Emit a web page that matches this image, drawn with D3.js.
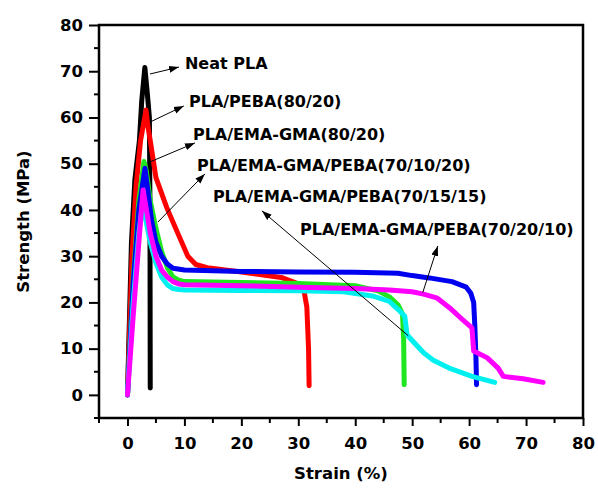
<!DOCTYPE html>
<html>
<head>
<meta charset="utf-8">
<script src="https://cdn.jsdelivr.net/npm/d3@7"></script>
<style>
    body { margin: 0; background: #fff; }
    text { font-family: "DejaVu Sans", sans-serif; font-weight: bold; }
</style>
</head>
<body>
<div id="chart"></div>
<script>
// strain (%), strength (MPa)
var neatPla = [[0,0],[0.7,33],[1.3,46.5],[2.1,55],[2.5,63.5],[3.05,70.8],[3.5,65],[3.85,60],[3.95,40],[4.0,1.5]];
var plaPeba = [[0,0],[0.8,30],[1.5,45],[2.3,55],[3.25,61.6],[3.6,58],[4.0,55],[5.0,47],[6.9,40.5],[9,34.5],[10.6,30],[12,28.2],[14,27.5],[20,26.6],[27,25.4],[30,24],[31,22.5],[31.5,19],[31.8,10],[31.9,2]];
var plaEmaGma = [[0,0],[1,25],[2,42],[2.9,50.5],[3.3,48.5],[4,42],[5,36],[6,31],[7,27.5],[8,25.5],[9,24.8],[10,24.5],[20,24.3],[30,24.1],[40,23.6],[44,22.5],[46,21.2],[47.5,19.5],[48.3,17.5],[48.5,12],[48.6,2.2]];
var blend701020 = [[0,0],[1,24],[2,40],[3.07,49],[3.5,45],[4.2,38],[5,33],[6,30],[7,28.3],[8,27.4],[10,27],[20,26.7],[30,26.6],[40,26.5],[47.5,26.3],[50,25.8],[53,25.3],[57,24.5],[59.5,23.3],[60.3,22],[60.8,20],[61,15],[61.2,8],[61.3,2.2]];
var blend701515 = [[0,0],[1,20],[2,35],[2.6,41],[3.2,38],[4,33],[5,28.5],[6,25.5],[7,23.8],[8,23],[9,22.8],[10,22.7],[20,22.6],[30,22.5],[38,22.3],[43,21.4],[46,20.2],[47.5,18.5],[48.7,17],[49.1,13],[50.2,11.5],[52,9.1],[53.7,7.5],[56.5,5.8],[60.5,4],[64.5,2.7]];
var blend702010 = [[0,0],[1,17],[2,33],[2.74,44.3],[3.2,41],[4,35],[5,30],[6,27],[7,25.5],[8,24.5],[9,24],[10,23.8],[20,23.6],[30,23.3],[40,23],[46,22.7],[50,22.3],[52,21.8],[54.3,21],[56.6,18.8],[58.9,16.2],[60.5,14.5],[60.8,9.5],[63.2,8],[65.1,5.8],[66,4],[69.5,3.5],[73,2.7]];

var seriesNames = ["Neat PLA", "PLA/PEBA(80/20)", "PLA/EMA-GMA(80/20)", "PLA/EMA-GMA/PEBA(70/10/20)", "PLA/EMA-GMA/PEBA(70/15/15)", "PLA/EMA-GMA/PEBA(70/20/10)"];
var seriesValues = [neatPla, plaPeba, plaEmaGma, blend701020, blend701515, blend702010];
var seriesColors = ["#000000", "#ff0000", "#1fe61f", "#0000f0", "#00f0f0", "#ff00ff"];

var xMajorTicks = [0, 10, 20, 30, 40, 50, 60, 70, 80];
var yMajorTicks = [0, 10, 20, 30, 40, 50, 60, 70, 80];
var minorTicks = [-5, 5, 15, 25, 35, 45, 55, 65, 75];

// label anchor and arrow (from -> to), in data units
var labelPos = [[10.1,70.4],[10.8,62.3],[11.5,55.1],[12.2,48.4],[15.0,41.7],[30.3,34.6]];
var arrowFrom = [[3.95,69.4],[3.95,59.0],[3.6,50.2],[5.36,37.4],[49.3,12.8],[51.85,22.1]];
var arrowTo = [[9.05,70.9],[9.9,62.5],[11.85,54.5],[13.6,47.8],[23.6,39.8],[54.5,32.2]];

var attrs = {
    width: 598,
    height: 492,
    left: 99,
    right: 583,
    top: 25,
    bottom: 418,
    lineWidth: 5
};

var x = d3.scaleLinear().domain([-5, 80]).range([attrs.left, attrs.right]);
var y = d3.scaleLinear().domain([-5, 80]).range([attrs.bottom, attrs.top]);

var svg = d3.select("#chart").append("svg")
    .attr("width", attrs.width)
    .attr("height", attrs.height);

svg.append("defs").append("marker")
    .attr("id", "arrow")
    .attr("viewBox", "0 0 10 10")
    .attr("refX", 10)
    .attr("refY", 5)
    .attr("markerWidth", 10)
    .attr("markerHeight", 10)
    .attr("markerUnits", "userSpaceOnUse")
    .attr("orient", "auto")
    .append("path")
    .attr("d", "M0,1.5 L10,5 L0,8.5 Z")
    .attr("fill", "#000");

var line = d3.line()
    .x(function(d){ return x(d[0]); })
    .y(function(d){ return y(d[1]); });

svg.append("g").selectAll("path")
    .data(seriesValues)
    .enter()
    .append("path")
    .attr("d", line)
    .attr("fill", "none")
    .attr("stroke", function(d, i){ return seriesColors[i]; })
    .attr("stroke-width", attrs.lineWidth)
    .attr("stroke-linejoin", "round")
    .attr("stroke-linecap", "round");

// frame
svg.append("rect")
    .attr("x", attrs.left)
    .attr("y", attrs.top)
    .attr("width", attrs.right - attrs.left)
    .attr("height", attrs.bottom - attrs.top)
    .attr("fill", "none")
    .attr("stroke", "#000")
    .attr("stroke-width", 2.5);

// x axis
var xAxis = d3.axisBottom(x).tickValues(xMajorTicks).tickSize(8).tickPadding(11).tickFormat(d3.format("d"));
var gx = svg.append("g").attr("transform", "translate(0," + attrs.bottom + ")").call(xAxis);
gx.append("g").selectAll("line")
    .data(minorTicks)
    .enter()
    .append("line")
    .attr("x1", function(d){ return x(d); })
    .attr("x2", function(d){ return x(d); })
    .attr("y1", 0)
    .attr("y2", 5);

// y axis
var yAxis = d3.axisLeft(y).tickValues(yMajorTicks).tickSize(10).tickPadding(6).tickFormat(d3.format("d"));
var gy = svg.append("g").attr("transform", "translate(" + attrs.left + ",0)").call(yAxis);
gy.append("g").selectAll("line")
    .data(minorTicks)
    .enter()
    .append("line")
    .attr("y1", function(d){ return y(d); })
    .attr("y2", function(d){ return y(d); })
    .attr("x1", 0)
    .attr("x2", -5);

svg.selectAll(".domain").remove();
svg.selectAll(".tick line, g > g > line").attr("stroke", "#000").attr("stroke-width", 2);
svg.selectAll(".tick text").attr("fill", "#000").style("font-size", "16.5px");

svg.append("text")
    .attr("x", (attrs.left + attrs.right) / 2)
    .attr("y", 479)
    .attr("text-anchor", "middle")
    .style("font-size", "16.5px")
    .text("Strain (%)");

svg.append("text")
    .attr("transform", "translate(29," + (attrs.top + attrs.bottom) / 2 + ") rotate(-90)")
    .attr("text-anchor", "middle")
    .style("font-size", "16.5px")
    .text("Strength (MPa)");

// annotations
var ann = svg.append("g");
ann.selectAll("line")
    .data(seriesNames)
    .enter()
    .append("line")
    .attr("x1", function(d, i){ return x(arrowFrom[i][0]); })
    .attr("y1", function(d, i){ return y(arrowFrom[i][1]); })
    .attr("x2", function(d, i){ return x(arrowTo[i][0]); })
    .attr("y2", function(d, i){ return y(arrowTo[i][1]); })
    .attr("stroke", "#000")
    .attr("stroke-width", 1)
    .attr("marker-end", "url(#arrow)");

ann.selectAll("text")
    .data(seriesNames)
    .enter()
    .append("text")
    .attr("x", function(d, i){ return x(labelPos[i][0]); })
    .attr("y", function(d, i){ return y(labelPos[i][1]); })
    .style("font-size", "16px")
    .text(function(d){ return d; });
</script>
</body>
</html>
